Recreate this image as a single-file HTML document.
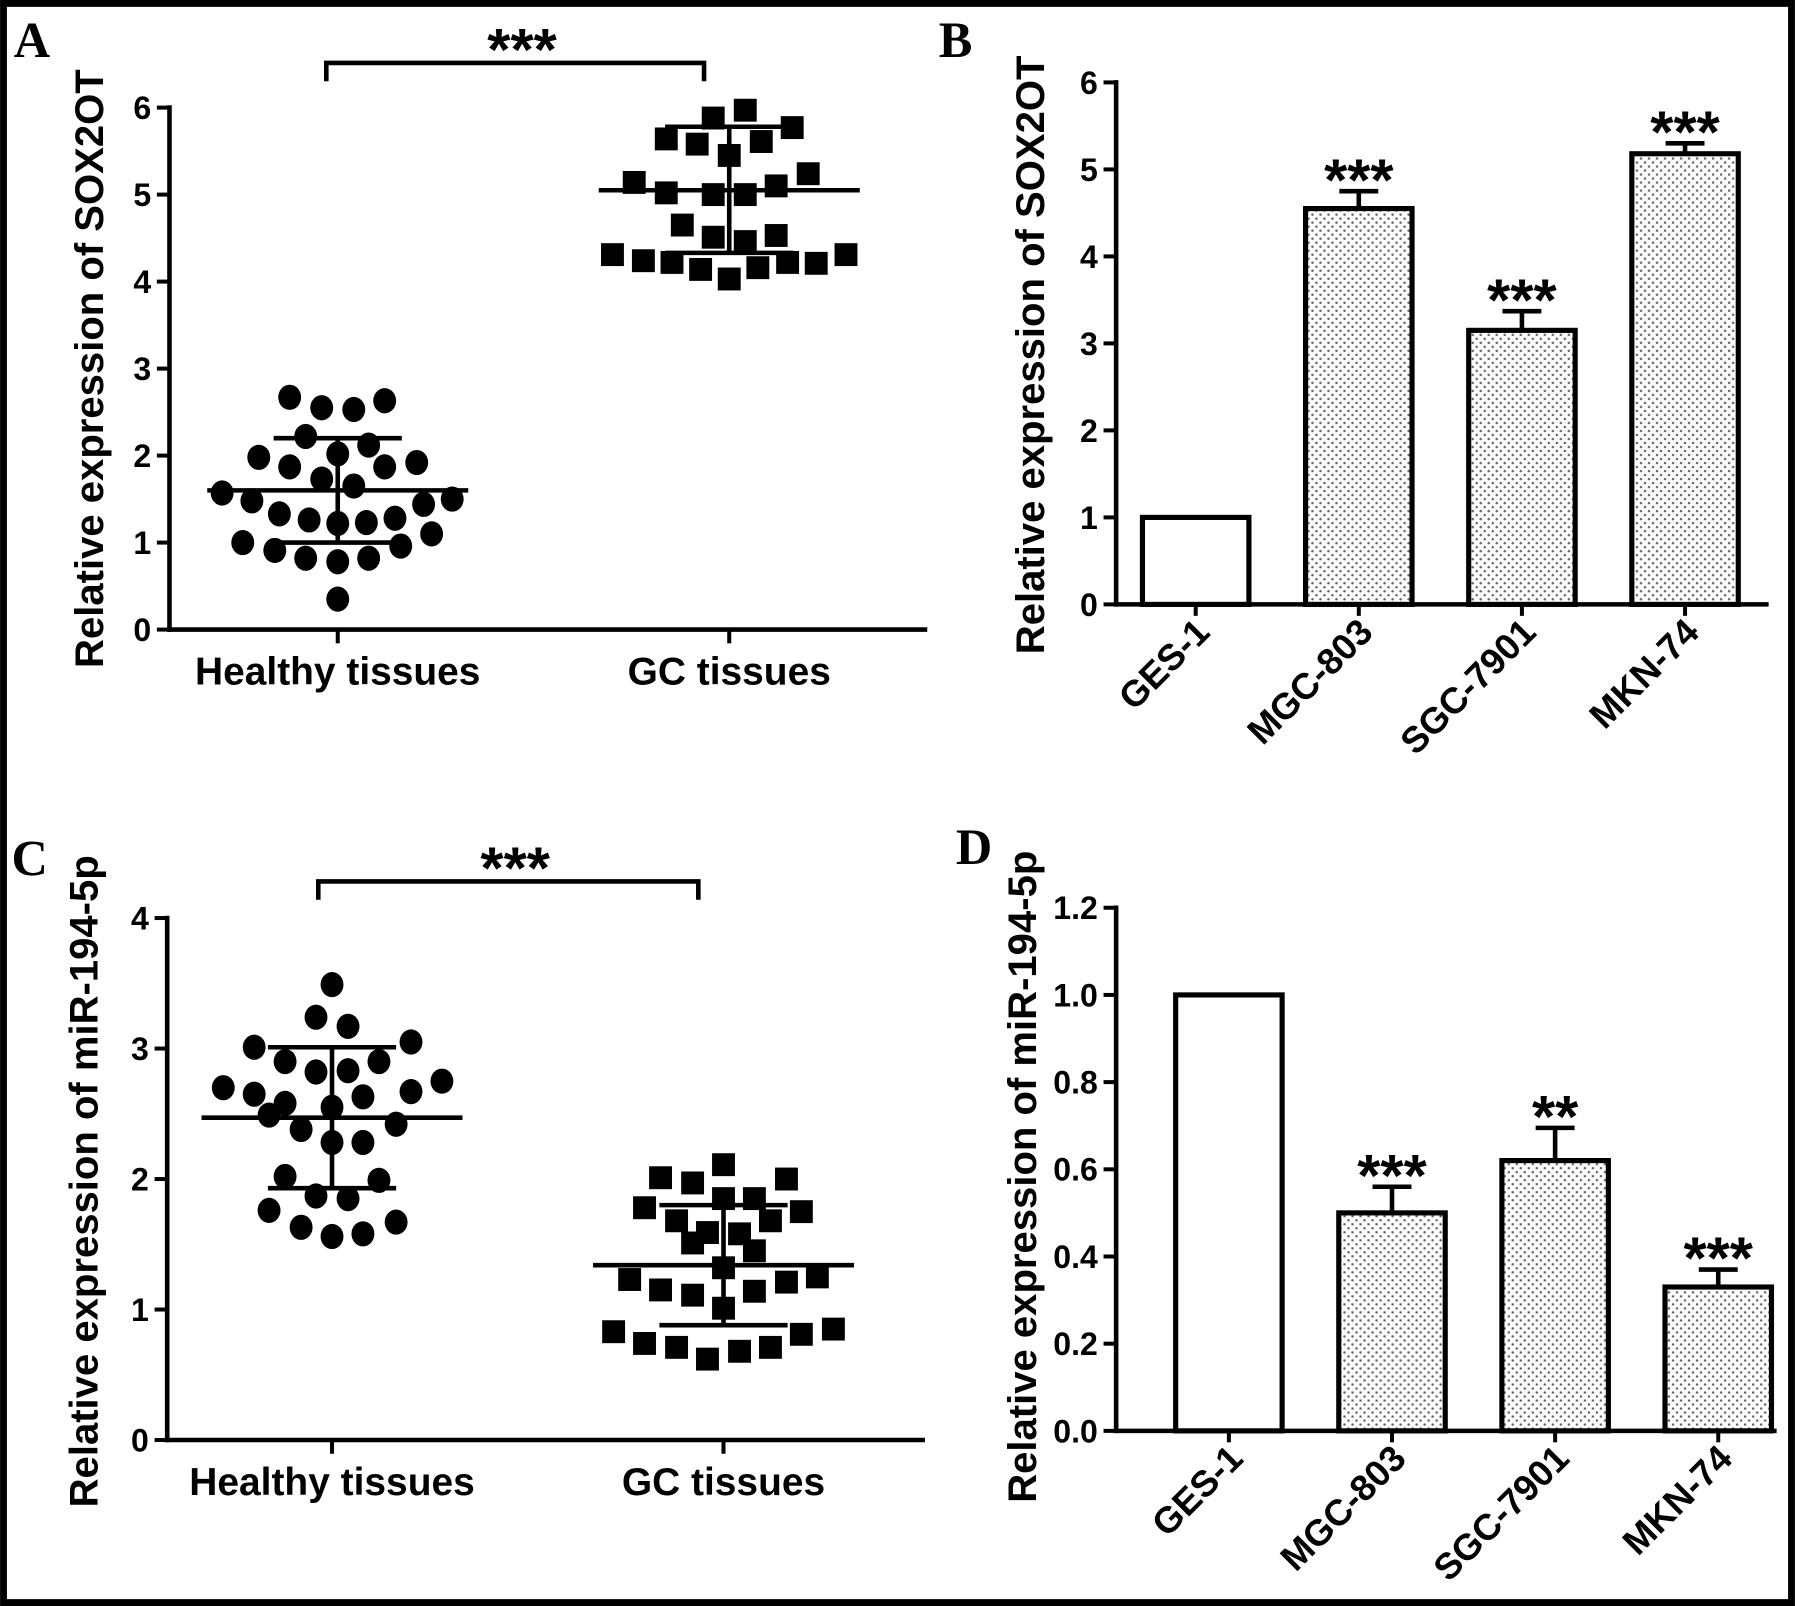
<!DOCTYPE html>
<html><head><meta charset="utf-8"><style>html,body{margin:0;padding:0;background:#fff}svg{display:block}text{font-family:"Liberation Sans",Arial,sans-serif;font-weight:bold;fill:#000}</style></head>
<body>
<svg id="fig" width="1795" height="1606" viewBox="0 0 1568 1403" xmlns="http://www.w3.org/2000/svg">
<defs><pattern id="dots" width="7" height="7" patternUnits="userSpaceOnUse"><rect width="7" height="7" fill="#fff"/><circle cx="2" cy="2" r="1.1" fill="#666"/><circle cx="5.5" cy="5.5" r="1.1" fill="#666"/></pattern></defs>
<rect x="3" y="3" width="1562" height="1397" fill="#fff" stroke="#000" stroke-width="6"/>
<text x="12" y="50" font-size="44" style="font-family:'Liberation Serif',serif">A</text>
<text x="820" y="50" font-size="44" style="font-family:'Liberation Serif',serif">B</text>
<text x="10" y="765" font-size="44" style="font-family:'Liberation Serif',serif">C</text>
<text x="835" y="755" font-size="44" style="font-family:'Liberation Serif',serif">D</text>
</svg>
<script>
// ---- data ----
const scatterCategories = ["Healthy tissues", "GC tissues"];
const aHealthy = [2.67,2.55,2.53,2.63,2.22,2.12,2.02,1.98,1.87,1.87,1.92,1.73,1.65,1.57,1.48,1.44,1.50,1.33,1.26,1.22,1.23,1.28,1.10,1.00,0.91,0.82,0.78,0.82,0.96,0.35];
const aHealthyJitter = [-42,-14,14,41,-28,27,0,-69,-42,41,69,-14,14,-101,-75,75,100,-51,-25,0,25,50,82,-83,-55,-28,0,27,55,0];
const aGC = [5.97,5.88,5.77,5.64,5.58,5.61,5.45,5.24,5.14,5.02,5.00,5.00,5.10,4.65,4.51,4.46,4.53,4.31,4.24,4.22,4.14,4.03,4.16,4.22,4.21,4.31];
const aGCJitter = [14,-14,55,-55,-28,28,0,69,-83,-55,-14,14,41,-41,-14,14,41,-102,-75,-50,-25,0,25,51,76,102];
const aMean = [1.6, 5.05];
const aSdHigh = [2.2, 5.78];
const aSdLow = [1.0, 4.33];
const aTicks = ["0","1","2","3","4","5","6"];

const cHealthy = [3.49,3.24,3.17,3.05,3.01,2.90,2.90,2.82,2.83,2.70,2.75,2.65,2.67,2.63,2.58,2.55,2.49,2.42,2.38,2.28,2.28,2.02,1.99,1.87,1.85,1.76,1.67,1.63,1.56,1.58];
const cHealthyJitter = [0,-14,14,69,-68,-41,41,-14,14,-95,96,-68,69,27,-41,0,-55,56,-27,0,27,-41,41,-14,14,-55,56,-27,0,27];
const cGC = [2.11,2.01,1.97,2.00,1.85,1.85,1.78,1.75,1.68,1.68,1.59,1.58,1.51,1.45,1.32,1.23,1.25,1.15,1.11,1.14,1.21,1.01,0.83,0.74,0.71,0.62,0.68,0.71,0.81,0.85];
const cGCJitter = [0,-55,-27,55,0,27,-69,68,-41,41,-14,14,-27,27,0,-82,82,-55,-27,27,55,0,-96,-69,-41,-14,14,41,68,96];
const cMean = [2.47, 1.34];
const cSdHigh = [3.01, 1.80];
const cSdLow = [1.93, 0.88];
const cTicks = ["0","1","2","3","4"];

const barCategories = ["GES-1","MGC-803","SGC-7901","MKN-74"];
const bValues = [1.0, 4.55, 3.15, 5.18];
const bErrors = [0, 0.20, 0.22, 0.12];
const bStars = ["", "***", "***", "***"];
const bTicks = ["0","1","2","3","4","5","6"];
const dValues = [1.0, 0.50, 0.62, 0.33];
const dErrors = [0, 0.06, 0.075, 0.04];
const dStars = ["", "***", "**", "***"];
const dTicks = ["0.0","0.2","0.4","0.6","0.8","1.0","1.2"];

// ---- drawing ----
const svg = document.getElementById('fig');
const NS = 'http://www.w3.org/2000/svg';
function mk(tag, attrs, parent) {
  const e = document.createElementNS(NS, tag);
  for (const k in attrs) e.setAttribute(k, attrs[k]);
  (parent || svg).appendChild(e);
  return e;
}
function line(g, x1, y1, x2, y2, w) { return mk('line', {x1, y1, x2, y2, stroke: '#000', 'stroke-width': w || 4}, g); }
function txt(g, x, y, s, size, anchor, extra) {
  const t = mk('text', Object.assign({x, y, 'font-size': size, 'text-anchor': anchor || 'middle'}, extra || {}), g);
  t.textContent = s; return t;
}

function yAxis(g, x, y0, yTop, max, ticks, ax, yTitleX, yTitleY, title) {
  const ys = v => y0 - (v / max) * (y0 - yTop);
  line(g, x, y0 + 2, x, yTop - 2, 4);
  ticks.forEach(t => {
    const v = parseFloat(t);
    line(g, x - 11, ys(v), x, ys(v), 3.5);
    const lbl = txt(g, x - 16, ys(v) + 10, t, 28, 'end');
    
    
  });
  const tt = txt(g, yTitleX, yTitleY, title, 35, 'middle', {transform: `rotate(-90 ${yTitleX} ${yTitleY})`});
  
  
  return ys;
}

function scatterPanel(name, cfg) {
  const g = mk('g', {});
  
  
  const ys = yAxis(g, cfg.ax, cfg.y0, cfg.yTop, cfg.max, cfg.ticks, cfg.ax, cfg.titleX, cfg.titleY, cfg.title);
  line(g, cfg.ax - 2, cfg.y0, cfg.axEnd, cfg.y0, 4);
  scatterCategories.forEach((c, i) => {
    const cx = cfg.cx[i];
    line(g, cx, cfg.y0, cx, cfg.y0 + 12, 3.5);
    const l = txt(g, cx, cfg.y0 + 48, c, 34);
    
    
  });
  const groups = [[cfg.h, cfg.hj, 'circle'], [cfg.gc, cfg.gcj, 'square']];
  groups.forEach((grp, i) => {
    const cx = cfg.cx[i];
    grp[0].forEach((v, k) => {
      const x = cx + grp[1][k], y = ys(v);
      let m;
      if (grp[2] === 'circle') m = mk('ellipse', {cx: x, cy: y, rx: 10, ry: 11, fill: '#000'}, g);
      else m = mk('rect', {x: x - 10, y: y - 10, width: 20, height: 20, fill: '#000'}, g);
      
      
    });
    const ml = line(g, cx - 114, ys(cfg.mean[i]), cx + 114, ys(cfg.mean[i]), 4);
    
    
    line(g, cx, ys(cfg.sdh[i]), cx, ys(cfg.sdl[i]), 4);
    line(g, cx - 56, ys(cfg.sdh[i]), cx + 56, ys(cfg.sdh[i]), 4);
    line(g, cx - 56, ys(cfg.sdl[i]), cx + 56, ys(cfg.sdl[i]), 4);
  });
  const b = cfg.br;
  const p = mk('polyline', {points: `${b[0]},${b[2]+16} ${b[0]},${b[2]} ${b[1]},${b[2]} ${b[1]},${b[2]+16}`, fill: 'none', stroke: '#000', 'stroke-width': 4}, g);
  
  
  const s = txt(g, (b[0] + b[1]) / 2 + 6, b[2] + 6, '***', 52);
  
  
}

function barPanel(name, cfg) {
  const g = mk('g', {});
  
  
  const ys = yAxis(g, cfg.ax, cfg.y0, cfg.yTop, cfg.max, cfg.ticks, cfg.ax, cfg.titleX, cfg.titleY, cfg.title);
  line(g, cfg.ax - 2, cfg.y0, cfg.axEnd, cfg.y0, 4);
  barCategories.forEach((c, i) => {
    const x = cfg.x0 + i * cfg.step, w = cfg.bw, cx = x + w / 2;
    const v = cfg.vals[i], e = cfg.errs[i];
    if (e > 0) {
      line(g, cx, ys(v), cx, ys(v + e), 4);
      line(g, cx - 17, ys(v + e), cx + 17, ys(v + e), 4);
    }
    const r = mk('rect', {x, y: ys(v), width: w, height: cfg.y0 - ys(v), fill: i === 0 ? '#fff' : 'url(#dots)', stroke: '#000', 'stroke-width': 4.5}, g);
    
    
    if (cfg.stars[i]) {
      const s = txt(g, cx, ys(v + e) + 8, cfg.stars[i], 52);
      
      
    }
    line(g, cx, cfg.y0, cx, cfg.y0 + 10, 3.5);
    const lx = cx + 14, ly = cfg.y0 + 26;
    const l = txt(g, lx, ly, c, 32, 'end', {transform: `rotate(-45 ${lx} ${ly})`});
    
    
  });
}

scatterPanel('panel-a-scatter', {ax: 148, axEnd: 810, y0: 550, yTop: 94, max: 6, ticks: aTicks, cx: [295, 637],
  h: aHealthy, hj: aHealthyJitter, gc: aGC, gcj: aGCJitter, mean: aMean, sdh: aSdHigh, sdl: aSdLow,
  titleX: 90, titleY: 322, title: 'Relative expression of SOX2OT', br: [285, 615, 55]});
scatterPanel('panel-c-scatter', {ax: 146, axEnd: 808, y0: 1258, yTop: 802, max: 4, ticks: cTicks, cx: [290, 632],
  h: cHealthy, hj: cHealthyJitter, gc: cGC, gcj: cGCJitter, mean: cMean, sdh: cSdHigh, sdl: cSdLow,
  titleX: 85, titleY: 1032, title: 'Relative expression of miR-194-5p', br: [278, 610, 770]});
barPanel('panel-b-bars', {ax: 975, axEnd: 1545, y0: 528, yTop: 72, max: 6, ticks: bTicks, x0: 998, step: 142.5, bw: 93,
  vals: bValues, errs: bErrors, stars: bStars, titleX: 912, titleY: 310, title: 'Relative expression of SOX2OT'});
barPanel('panel-d-bars', {ax: 975, axEnd: 1552, y0: 1250, yTop: 793, max: 1.2, ticks: dTicks, x0: 1027, step: 142.5, bw: 93,
  vals: dValues, errs: dErrors, stars: dStars, titleX: 905, titleY: 1028, title: 'Relative expression of miR-194-5p'});
</script>
</body></html>
